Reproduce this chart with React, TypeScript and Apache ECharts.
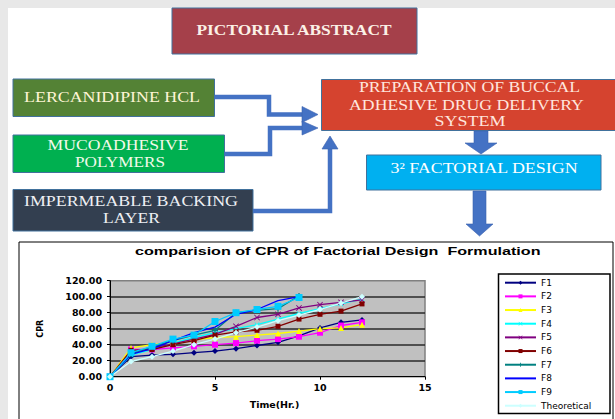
import React, { useEffect, useRef } from "react";
import * as echarts from "echarts";

// ---- data ----
const HOURS = [0, 1, 2, 3, 4, 5, 6, 7, 8, 9, 10, 11, 12];
const F1 = [0, 25, 27, 28, 30, 32, 35, 39, 43, 51, 61, 68, 71];
const F2 = [0, 34, 34, 36, 38, 40, 42, 45, 47, 50, 55, 64, 68];
const F3 = [0, 36, 40, 43, 46, 49, 50, 52, 54, 57, 60, 61, 65];
const F4 = [0, 27, 34, 42, 49, 55, 60, 65, 72, 79, 85, 91, 97];
const F5 = [0, 30, 36, 41, 47, 53, 63, 74, 78, 86, 90, 93, 96];
const F6 = [0, 33, 34, 40, 45, 52, 56, 58, 63, 72, 78, 82, 91];
const F7 = [0, 28, 38, 45, 52, 58, 80, 83, 85, 101];
const F8 = [0, 28, 35, 45, 55, 62, 78, 84, 95, 100];
const F9 = [0, 30, 38, 47, 52, 69, 80, 84, 88, 99];
const THEORETICAL = [0, 19, 25, 32, 40, 47, 55, 62, 70, 77, 84, 92, 100];
const SERIES_NAMES = ["F1", "F2", "F3", "F4", "F5", "F6", "F7", "F8", "F9", "Theoretical"];
const SERIES_VALUES = [F1, F2, F3, F4, F5, F6, F7, F8, F9, THEORETICAL];
const Y_TICKS = [0, 120, 20];
const X_TICKS = [0, 15, 5];
const CHART_TITLE = "comparision of CPR of Factorial Design  Formulation";

const X_SYM = "path://M0,1L1,0L5,4L9,0L10,1L6,5L10,9L9,10L5,6L1,10L0,9L4,5Z";
const PLUS_SYM = "path://M4,0H6V4H10V6H6V10H4V6H0V4H4Z";
const DASH_SYM = "path://M0,0H10V3H0Z";

const STYLES = [
  { color: "#000080", symbol: "diamond", size: 6 },
  { color: "#FF00FF", symbol: "rect", size: 6 },
  { color: "#FFFF00", symbol: "triangle", size: 6 },
  { color: "#00FFFF", symbol: X_SYM, size: 5 },
  { color: "#800080", symbol: X_SYM, size: 6 },
  { color: "#800000", symbol: "rect", size: 5 },
  { color: "#008080", symbol: PLUS_SYM, size: 6 },
  { color: "#0000FF", symbol: "none", size: 0 },
  { color: "#00CCFF", symbol: DASH_SYM, size: 7 },
  { color: "#CCFFFF", symbol: "diamond", size: 6 },
];

function measure(text: string, font: string): number {
  const ctx = document.createElement("canvas").getContext("2d");
  if (!ctx) return text.length * 8;
  ctx.font = font;
  return ctx.measureText(text).width || text.length * 8;
}

function fitText(
  text: string,
  cx: number,
  cy: number,
  targetW: number,
  size: number,
  color: string,
  bold: boolean,
  family: string,
  align: string = "center"
) {
  const weight = bold ? "bold" : "normal";
  const font = `${weight} ${size}px "${family}"`;
  const w = measure(text, font);
  return {
    type: "text",
    x: cx,
    y: cy,
    scaleX: targetW / w,
    z: 20,
    style: {
      text,
      fill: color,
      fontSize: size,
      fontFamily: family,
      fontWeight: weight,
      textAlign: align,
      textVerticalAlign: "middle",
    },
  };
}

export default function App() {
  const ref = useRef<HTMLDivElement>(null);

  useEffect(() => {
    if (!ref.current) return;
    const chart = echarts.init(ref.current, undefined, { renderer: "svg" });

    const serif = "Liberation Serif";
    const boxes = [
      { x: 172, y: 8, w: 245, h: 46, fill: "#A5404A" },
      { x: 13, y: 79, w: 201.5, h: 37.5, fill: "#548235" },
      { x: 13, y: 135, w: 211.5, h: 37.5, fill: "#00B050" },
      { x: 13, y: 189.5, w: 240, h: 41.5, fill: "#333F50" },
      { x: 321.5, y: 79.5, w: 300, h: 51, fill: "#D5432F" },
      { x: 366.5, y: 155, w: 234.5, h: 35, fill: "#00B0F0" },
    ];
    const texts: [string, number, number, number, number, string, boolean][] = [
      ["PICTORIAL ABSTRACT", 294, 30, 197, 15, "#FBF0E6", true],
      ["LERCANIDIPINE HCL", 112, 97, 176, 15, "#FFF5D6", false],
      ["MUCOADHESIVE", 118, 145, 141, 15, "#F2FAEA", false],
      ["POLYMERS", 120, 162, 90, 15, "#F2FAEA", false],
      ["IMPERMEABLE BACKING", 131, 201, 214, 15, "#EEF0F4", false],
      ["LAYER", 131.5, 218, 57, 15, "#EEF0F4", false],
      ["PREPARATION OF BUCCAL", 469.5, 87, 221, 15, "#FFE6DE", false],
      ["ADHESIVE DRUG DELIVERY", 466.5, 104.5, 235, 15, "#FFE6DE", false],
      ["SYSTEM", 470, 121.5, 71, 15, "#FFE6DE", false],
      ["3\u00B2 FACTORIAL DESIGN", 484, 168, 188, 15, "#FFFFFF", false],
    ];
    const arrowBlue = "#4472C4";
    const lines = [
      [[214.5, 97], [269, 97], [269, 114.5], [304, 114.5]],
      [[224.5, 154], [270, 154], [270, 128], [304, 128]],
      [[253, 211], [330, 211], [330, 148]],
    ];
    const heads = [
      [[302, 106.5], [318, 114.5], [302, 122.5]],
      [[302, 121], [318, 128], [302, 135]],
      [[322, 149], [330, 136], [338, 149]],
      [[474, 131], [488, 131], [488, 143], [497, 143], [481, 154], [465, 143], [474, 143]],
      [[473, 191], [486, 191], [486, 224], [493, 224], [479.5, 236], [466, 224], [473, 224]],
    ];

    const graphic: any[] = [
      { type: "rect", z: -10, shape: { x: 8, y: 8, width: 607, height: 411 }, style: { fill: "#FFFFFF" } },
      {
        type: "rect",
        z: -5,
        shape: { x: 19, y: 242, width: 594, height: 200 },
        style: { fill: "#FFFFFF", stroke: "#000000", lineWidth: 1 },
      },
      {
        type: "rect",
        z: 5,
        shape: { x: 498.5, y: 274, width: 111.5, height: 139.5 },
        style: { fill: "none", stroke: "#000000", lineWidth: 1.5 },
      },
      ...boxes.map((b) => ({
        type: "rect",
        z: 10,
        shape: { x: b.x, y: b.y, width: b.w, height: b.h },
        style: { fill: b.fill, stroke: "#41719C", lineWidth: 1 },
      })),
      ...lines.map((pts) => ({
        type: "polyline",
        z: 10,
        shape: { points: pts },
        style: { stroke: arrowBlue, lineWidth: 4.5, fill: null },
      })),
      ...heads.map((pts) => ({
        type: "polygon",
        z: 10,
        shape: { points: pts },
        style: { fill: arrowBlue, stroke: "#3A62AE", lineWidth: 0.6 },
      })),
      ...texts.map((t) => fitText(t[0], t[1], t[2], t[3], t[4], t[5], t[6], serif)),
      fitText(CHART_TITLE, 135, 251.5, 406, 10.5, "#000000", true, "Liberation Sans", "left"),
    ];

    const labelFont = { fontFamily: "DejaVu Sans", fontWeight: "bold", fontSize: 9.5, color: "#000" };

    chart.setOption({
      animation: false,
      backgroundColor: "#E8E8E8",
      textStyle: { fontFamily: "Liberation Sans" },
      grid: {
        left: 110,
        top: 280.7,
        width: 315,
        height: 96,
        show: true,
        backgroundColor: "#C0C0C0",
        borderColor: "#808080",
        borderWidth: 1.5,
      },
      xAxis: {
        type: "value",
        min: X_TICKS[0],
        max: X_TICKS[1],
        interval: X_TICKS[2],
        axisLine: { show: true, onZero: false, lineStyle: { color: "#000", width: 1 } },
        axisTick: { show: true, length: 3, lineStyle: { color: "#000" } },
        axisLabel: { ...labelFont, margin: 6 },
        splitLine: { show: false },
        name: "Time(Hr.)",
        nameLocation: "middle",
        nameGap: 23,
        nameTextStyle: { ...labelFont, padding: [0, 0, 0, 14] },
      },
      yAxis: {
        type: "value",
        min: Y_TICKS[0],
        max: Y_TICKS[1],
        interval: Y_TICKS[2],
        axisLine: { show: true, lineStyle: { color: "#000", width: 1 } },
        axisTick: { show: true, length: 3, lineStyle: { color: "#000" } },
        axisLabel: { ...labelFont, margin: 8, formatter: (v: number) => v.toFixed(2) },
        splitLine: { show: true, showMinLine: false, showMaxLine: false, lineStyle: { color: "#2A2A2A", width: 1.5 } },
        name: "CPR",
        nameLocation: "middle",
        nameRotate: 90,
        nameGap: 66,
        nameTextStyle: { ...labelFont, fontSize: 8 },
      },
      legend: {
        orient: "vertical",
        left: 504,
        top: 277.7,
        itemWidth: 31,
        itemHeight: 5,
        itemGap: 3.67,
        padding: 0,
        textStyle: { fontFamily: "DejaVu Sans", fontSize: 9, lineHeight: 10, color: "#000" },
        data: SERIES_NAMES.map((name, i) =>
          STYLES[i].symbol === "none" ? { name, itemStyle: { opacity: 0 } } : name
        ),
      },
      series: SERIES_NAMES.map((name, i) => ({
        name,
        type: "line",
        data: SERIES_VALUES[i].map((v, k) => [HOURS[k], v]),
        symbol: STYLES[i].symbol,
        symbolSize: STYLES[i].size,
        showSymbol: STYLES[i].symbol !== "none",
        color: STYLES[i].color,
        lineStyle: { width: 1.3, color: STYLES[i].color },
        itemStyle: { color: STYLES[i].color },
        z: 3,
      })),
      graphic,
    });

    return () => chart.dispose();
  }, []);

  return (
    <div
      ref={ref}
      style={{ position: "fixed", left: 0, top: 0, width: 615, height: 419 }}
    />
  );
}
